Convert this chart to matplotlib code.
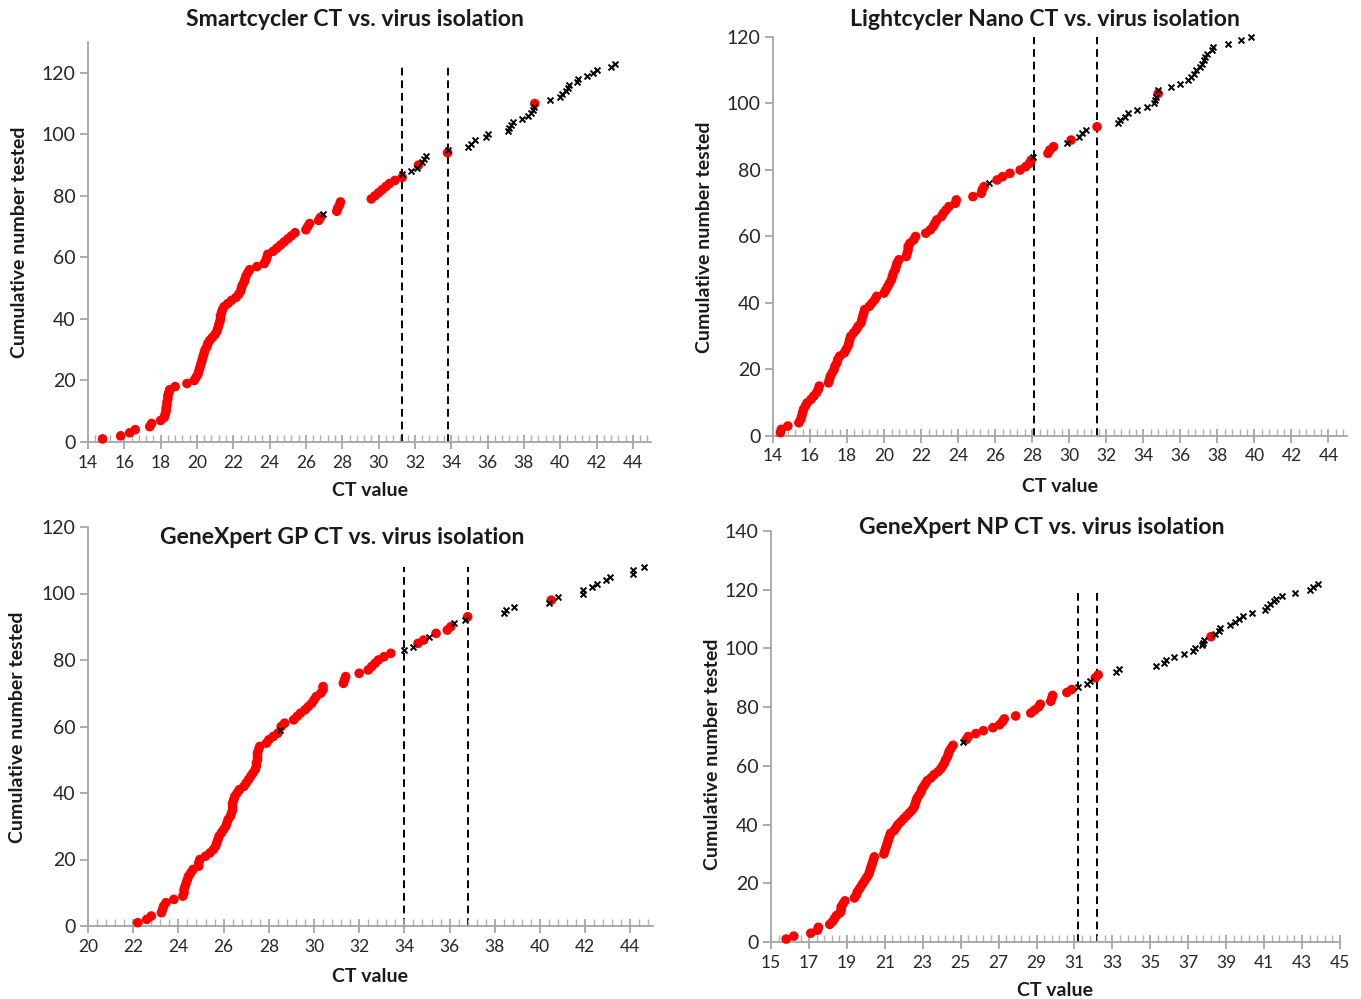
import matplotlib
matplotlib.use("Agg")
import matplotlib.pyplot as plt
from matplotlib.ticker import FixedLocator
import numpy as np

plt.rcParams['font.family'] = ['Lato', 'DejaVu Sans']

# CT values of samples with virus isolated (red dots) and not isolated (black crosses)
sc_pos = [14.8, 15.8, 16.3, 16.6, 17.4, 17.5, 18.0, 18.2, 18.25, 18.3, 18.3, 18.35, 18.35,
          18.4, 18.4, 18.45, 18.5, 18.8, 19.45, 19.85, 19.95, 20.05, 20.1, 20.15, 20.2,
          20.25, 20.3, 20.35, 20.4, 20.45, 20.55, 20.6, 20.7, 20.85, 21.0, 21.1, 21.15,
          21.2, 21.25, 21.3, 21.3, 21.35, 21.4, 21.5, 21.7, 21.9, 22.15, 22.3, 22.4, 22.45,
          22.5, 22.6, 22.65, 22.7, 22.8, 22.9, 23.3, 23.7, 23.8, 23.85, 23.9, 24.2, 24.4,
          24.6, 24.8, 25.0, 25.2, 25.4, 26.0, 26.1, 26.2, 26.7, 26.8, 27.7, 27.75, 27.85,
          27.9, 29.6, 29.8, 30.0, 30.2, 30.4, 30.6, 30.9, 31.3, 32.2, 33.8, 38.6]
sc_neg = [26.95, 31.3, 31.8, 32.1, 32.4, 32.5, 32.6, 33.8, 34.9, 35.1, 35.3, 35.9, 36.0,
          37.1, 37.2, 37.3, 37.4, 37.9, 38.2, 38.4, 38.5, 38.55, 39.45, 40.0, 40.1, 40.3,
          40.45, 40.5, 40.9, 41.0, 41.5, 41.8, 42.0, 42.8, 43.0]
sc_cut = [31.3, 33.8]

lc_pos = [14.4, 14.45, 14.8, 15.4, 15.5, 15.55, 15.6, 15.65, 15.75, 15.85, 16.05, 16.2,
          16.35, 16.45, 16.5, 17.0, 17.05, 17.1, 17.2, 17.3, 17.35, 17.45, 17.5, 17.6,
          17.85, 17.95, 18.05, 18.1, 18.15, 18.2, 18.35, 18.5, 18.6, 18.75, 18.8, 18.85,
          18.9, 18.95, 19.2, 19.35, 19.5, 19.6, 20.0, 20.1, 20.2, 20.3, 20.4, 20.45, 20.5,
          20.6, 20.65, 20.7, 20.8, 21.2, 21.25, 21.3, 21.3, 21.4, 21.6, 21.7, 22.25, 22.5,
          22.65, 22.75, 22.85, 23.1, 23.2, 23.35, 23.5, 23.85, 23.9, 24.8, 25.25, 25.3,
          25.4, 26.1, 26.4, 26.8, 27.35, 27.65, 27.85, 27.95, 28.85, 28.95, 29.15, 30.1,
          31.5, 34.8]
lc_neg = [25.65, 28.05, 29.9, 30.5, 30.7, 30.9, 32.65, 32.75, 33.0, 33.15, 33.65, 34.2,
          34.6, 34.65, 34.7, 34.8, 35.5, 36.0, 36.4, 36.6, 36.75, 36.85, 37.05, 37.15,
          37.25, 37.35, 37.45, 37.7, 37.75, 38.6, 39.3, 39.8]
lc_cut = [28.1, 31.5]

gp_pos = [22.2, 22.6, 22.8, 23.25, 23.3, 23.35, 23.45, 23.8, 24.2, 24.25, 24.25, 24.3,
          24.35, 24.4, 24.45, 24.55, 24.65, 24.9, 24.9, 24.95, 25.2, 25.4, 25.55, 25.65,
          25.7, 25.75, 25.8, 25.9, 26.0, 26.1, 26.15, 26.2, 26.3, 26.35, 26.4, 26.4, 26.4,
          26.45, 26.5, 26.6, 26.7, 26.9, 27.0, 27.1, 27.2, 27.3, 27.4, 27.45, 27.45, 27.5,
          27.5, 27.5, 27.55, 27.6, 27.9, 28.0, 28.2, 28.4, 28.55, 28.7, 29.1, 29.25, 29.4,
          29.6, 29.75, 29.9, 30.0, 30.1, 30.3, 30.4, 30.4, 31.3, 31.35, 31.4, 32.0, 32.4,
          32.55, 32.7, 32.85, 33.1, 33.4, 34.6, 34.85, 35.4, 35.9, 36.05, 36.8, 40.5]
gp_neg = [28.5, 34.0, 34.4, 35.1, 36.2, 36.7, 38.4, 38.5, 38.85, 40.4, 40.8, 41.9, 41.9,
          42.3, 42.5, 42.9, 43.1, 44.1, 44.1, 44.6]
gp_cut = [34.0, 36.8]

np_pos = [15.8, 16.2, 17.1, 17.45, 17.5, 18.1, 18.25, 18.35, 18.45, 18.65, 18.7, 18.7,
          18.8, 18.9, 19.4, 19.5, 19.55, 19.65, 19.75, 19.85, 19.95, 20.05, 20.15, 20.2,
          20.25, 20.3, 20.35, 20.4, 20.45, 20.95, 21.0, 21.05, 21.1, 21.15, 21.2, 21.25,
          21.3, 21.5, 21.6, 21.7, 21.85, 22.0, 22.15, 22.3, 22.45, 22.55, 22.6, 22.65, 22.7,
          22.8, 22.9, 22.95, 23.05, 23.15, 23.25, 23.45, 23.6, 23.8, 23.95, 24.05, 24.15,
          24.2, 24.3, 24.35, 24.4, 24.5, 24.6, 25.3, 25.4, 25.8, 26.2, 26.7, 27.05, 27.2,
          27.3, 27.9, 28.7, 28.9, 29.1, 29.2, 29.75, 29.8, 29.85, 30.6, 30.85, 32.1, 32.25,
          38.2]
np_neg = [25.1, 31.2, 31.65, 31.8, 33.2, 33.35, 35.3, 35.7, 35.85, 36.25, 36.75, 37.25,
          37.35, 37.7, 37.8, 37.85, 38.4, 38.6, 38.65, 39.2, 39.45, 39.65, 39.9, 40.35,
          41.05, 41.15, 41.3, 41.5, 41.6, 41.95, 42.65, 43.4, 43.6, 43.85]
np_cut = [31.2, 32.2]

titles = ['Smartcycler CT vs. virus isolation', 'Lightcycler Nano CT vs. virus isolation',
          'GeneXpert GP CT vs. virus isolation', 'GeneXpert NP CT vs. virus isolation']

W, H = 1361, 999
fig = plt.figure(figsize=(W / 100, H / 100), dpi=100)
fig.patch.set_facecolor('white')

def px(x0, y0, x1, y1):
    # pixel box (left, top, right, bottom) -> figure rect
    return [x0 / W, 1 - y1 / H, (x1 - x0) / W, (y1 - y0) / H]

def panel(rect, pos, neg, cut, cut_top, xlim, xlast, ylim, title, tpos, ylpos, xlpos):
    ax = fig.add_axes(rect)
    ct = np.array(pos + neg)
    iso = np.array([1] * len(pos) + [0] * len(neg))
    order = np.argsort(ct, kind='stable')
    ct, iso = ct[order], iso[order]
    n = np.arange(1, len(ct) + 1)  # cumulative number tested

    for c in cut:
        ax.plot([c, c], [0, cut_top], color='black', lw=1.4, ls=(0, (4, 2.5)), zorder=1)
    ax.scatter(ct[iso == 1], n[iso == 1], s=48, color='#ff0000', edgecolors='none',
               zorder=3, clip_on=False)
    ax.scatter(ct[iso == 0], n[iso == 0], s=18, marker='x', color='black',
               linewidths=1.4, zorder=4, clip_on=False)

    ax.set_xlim(xlim)
    ax.set_ylim(ylim)
    ax.set_xticks(np.arange(xlim[0], xlast + 0.1, 2))
    ax.xaxis.set_minor_locator(FixedLocator(np.arange(xlim[0], xlim[1] + 0.01, 0.4)))
    ax.set_yticks(np.arange(0, ylim[1] + 1, 20))
    for s in ['top', 'right']:
        ax.spines[s].set_visible(False)
    for s in ['left', 'bottom']:
        ax.spines[s].set_color('#a6a6a6')
        ax.spines[s].set_linewidth(1.3)
    ax.tick_params(axis='x', which='major', direction='inout', length=10, width=1.3,
                   color='#a6a6a6', labelsize=12.5, labelcolor='#262626', pad=4)
    ax.tick_params(axis='x', which='minor', direction='in', length=5, width=1.0,
                   color='#b0b0b0')
    ax.tick_params(axis='y', which='major', direction='out', length=6, width=1.3,
                   color='#a6a6a6', labelsize=14, labelcolor='#262626', pad=3)

    fig.text(tpos[0] / W, 1 - tpos[1] / H, title, ha='center', va='center',
             fontsize=16.6, fontweight='bold', color='#1a1a1a')
    fig.text(ylpos[0] / W, 1 - ylpos[1] / H, 'Cumulative number tested', ha='center',
             va='center', rotation=90, fontsize=14, fontweight='bold', color='#1a1a1a')
    fig.text(xlpos[0] / W, 1 - xlpos[1] / H, 'CT value', ha='center', va='center',
             fontsize=14, fontweight='bold', color='#1a1a1a')
    return ax

panel(px(88, 42, 651, 442), sc_pos, sc_neg, sc_cut, 122, (14, 45), 44, (0, 130),
      titles[0], (355, 20), (20, 242), (370, 490))
panel(px(773, 37, 1347, 436), lc_pos, lc_neg, lc_cut, 120, (14, 45), 44, (0, 120),
      titles[1], (1045, 20), (705, 237), (1060, 487))
panel(px(88, 527, 653, 926), gp_pos, gp_neg, gp_cut, 108, (20, 45), 44, (0, 120),
      titles[2], (342, 537), (18, 727), (370, 977))
panel(px(771, 531, 1340, 942), np_pos, np_neg, np_cut, 119, (15, 45), 45, (0, 140),
      titles[3], (1042, 528), (712, 754), (1055, 990))

fig.savefig('out.png', dpi=100, facecolor='white')
